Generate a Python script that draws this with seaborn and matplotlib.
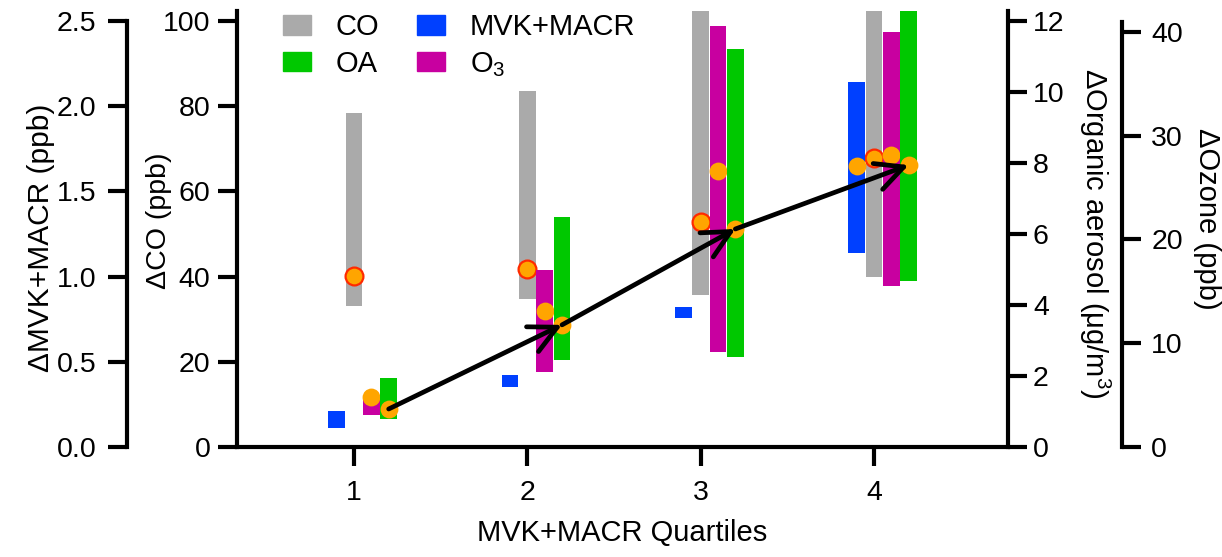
import numpy as np
import pandas as pd
import matplotlib
matplotlib.use("Agg")
import matplotlib.pyplot as plt
import seaborn as sns
from matplotlib.patches import Patch

# ---------------- data ----------------
quartiles = [1, 2, 3, 4]
quartile_labels = ["1", "2", "3", "4"]

mvk_low = [0.11, 0.35, 0.76, 1.14]
mvk_high = [0.21, 0.42, 0.82, 2.14]
mvk_med = [np.nan, np.nan, np.nan, 1.65]

co_low = [33.1, 34.7, 35.7, 39.9]
co_high = [78.4, 83.6, 106.0, 108.0]
co_med = [40.1, 41.8, 52.8, 67.8]

o3_low = [3.1, 7.2, 9.2, 15.5]
o3_high = [4.8, 17.1, 40.6, 40.0]
o3_med = [4.8, 13.1, 26.6, 28.1]

oa_low = [0.78, 2.45, 2.54, 4.68]
oa_high = [1.94, 6.48, 11.2, 12.8]
oa_med = [1.07, 3.44, 6.14, 7.94]

# ---------------- style ----------------
sns.set_theme(style="white")
plt.rcParams["font.family"] = ["Liberation Sans", "DejaVu Sans"]
plt.rcParams["mathtext.fontset"] = "custom"
plt.rcParams["mathtext.rm"] = "Liberation Sans"
plt.rcParams["axes.linewidth"] = 3
for k in ("text.color", "axes.labelcolor", "xtick.color", "ytick.color",
          "xtick.labelcolor", "ytick.labelcolor", "axes.edgecolor"):
    plt.rcParams[k] = "black"

C_MVK = "#0040FF"
C_CO = "#AAAAAA"
C_O3 = "#C800A0"
C_OA = "#00C800"
C_DOT = "#FFA500"

W = 0.095
OFF = {"mvk": -0.1, "co": 0.0, "o3": 0.1, "oa": 0.2}

fig = plt.figure(figsize=(12.22, 5.57), dpi=100)
ax = fig.add_axes([237 / 1222, 110 / 557, 771 / 1222, 436 / 557])
ax_mvk = ax.twinx()
ax_o3 = ax.twinx()
ax_oa = ax.twinx()

x = np.array(quartiles, dtype=float)


def floating(axis, xs, lo, hi, color):
    lo = np.asarray(lo)
    hi = np.asarray(hi)
    axis.bar(xs, hi - lo, bottom=lo, width=W, color=color, edgecolor="none", zorder=2)


def medians(axis, xs, vals, edge):
    df = pd.DataFrame({"x": xs, "y": vals}).dropna()
    sns.scatterplot(data=df, x="x", y="y", ax=axis, s=165, color=C_DOT,
                    edgecolor=edge, linewidth=1.6 if edge != C_DOT else 0,
                    zorder=4, legend=False)


floating(ax, x + OFF["co"], co_low, co_high, C_CO)
medians(ax, x + OFF["co"], co_med, "#FF2A00")

floating(ax_mvk, x + OFF["mvk"], mvk_low, mvk_high, C_MVK)
medians(ax_mvk, x + OFF["mvk"], mvk_med, C_DOT)

floating(ax_o3, x + OFF["o3"], o3_low, o3_high, C_O3)
medians(ax_o3, x + OFF["o3"], o3_med, C_DOT)

floating(ax_oa, x + OFF["oa"], oa_low, oa_high, C_OA)
medians(ax_oa, x + OFF["oa"], oa_med, C_DOT)

# arrows connecting OA medians
xa = x + OFF["oa"]
for i in range(len(quartiles) - 1):
    ax_oa.annotate("", xy=(xa[i + 1], oa_med[i + 1]), xytext=(xa[i], oa_med[i]),
                   xycoords="data", textcoords="data",
                   arrowprops=dict(arrowstyle="->,head_length=0.9,head_width=0.45",
                                   mutation_scale=22, lw=3.4, color="black",
                                   shrinkA=0, shrinkB=0),
                   zorder=6)

# ---------------- axes ----------------
ax.set_xlim(0.325, 4.773)
ax.set_xticks(quartiles)
ax.set_xticklabels(quartile_labels)
ax.set_ylim(0, 102.35)
ax.set_yticks([0, 20, 40, 60, 80, 100])
ax_mvk.set_ylim(0, 2.559)
ax_mvk.set_yticks([0, 0.5, 1.0, 1.5, 2.0, 2.5])
ax_mvk.set_yticklabels(["0.0", "0.5", "1.0", "1.5", "2.0", "2.5"])
ax_oa.set_ylim(0, 12.28)
ax_oa.set_yticks([0, 2, 4, 6, 8, 10, 12])
ax_o3.set_ylim(0, 42.02)
ax_o3.set_yticks([0, 10, 20, 30, 40])

for a in (ax, ax_mvk, ax_o3, ax_oa):
    for s in a.spines.values():
        s.set_visible(False)
        s.set_linewidth(3)
        s.set_color("black")
    a.set_xlabel("")
    a.set_ylabel("")

ax.spines["left"].set_visible(True)
ax.spines["bottom"].set_visible(True)

ax_mvk.spines["left"].set_visible(True)
ax_mvk.spines["left"].set_position(("axes", (127 - 237) / 771))
ax_mvk.spines["left"].set_bounds(0, 2.5)
ax_mvk.yaxis.set_ticks_position("left")
ax_mvk.yaxis.set_label_position("left")

ax_oa.spines["right"].set_visible(True)
ax_oa.yaxis.set_ticks_position("right")

ax_o3.spines["right"].set_visible(True)
ax_o3.spines["right"].set_position(("axes", (1122 - 237) / 771))
ax_o3.spines["right"].set_bounds(0, 41)
ax_o3.yaxis.set_ticks_position("right")

tick_kw = dict(direction="out", length=14, width=3, color="black",
               labelsize=20.5, labelcolor="black")
ax.tick_params(axis="x", pad=10, bottom=True, **tick_kw)
ax.tick_params(axis="y", pad=5, left=True, **tick_kw)
ax_mvk.tick_params(axis="y", pad=8, left=True, right=False, **tick_kw)
ax_oa.tick_params(axis="y", pad=4, right=True, left=False, **tick_kw)
ax_o3.tick_params(axis="y", pad=7, right=True, left=False, **tick_kw)

# axis labels
ax.set_xlabel("MVK+MACR Quartiles", fontsize=21, labelpad=9)
ax.set_ylabel("ΔCO (ppb)", fontsize=20.5)
ax.yaxis.set_label_coords((172 - 237) / 771, 0.52)
ax_mvk.set_ylabel("ΔMVK+MACR (ppb)", fontsize=21.5)
ax_mvk.yaxis.set_label_coords((55 - 237) / 771, 0.48)
ax_oa.set_ylabel("ΔOrganic aerosol (μg/m$^\\mathregular{3}$)", fontsize=21,
                 rotation=270, va="bottom")
ax_oa.yaxis.set_label_coords((1077 - 237) / 771, 0.49)
ax_o3.set_ylabel("ΔOzone (ppb)", fontsize=21, rotation=270, va="bottom")
ax_o3.yaxis.set_label_coords((1193 - 237) / 771, 0.523)

# legend
handles = [Patch(color=C_CO), Patch(color=C_OA), Patch(color=C_MVK), Patch(color=C_O3)]
labels = ["CO", "OA", "MVK+MACR", "O$_\\mathregular{3}$"]
ax_oa.legend(handles, labels, ncol=2, loc="upper left",
             bbox_to_anchor=((283 - 237) / 771, 0.995), frameon=False,
             fontsize=21, handlelength=0.95, handleheight=0.65,
             handletextpad=0.85, columnspacing=1.3, labelspacing=0.3,
             borderpad=0, borderaxespad=0)

fig.savefig("out.png", dpi=100)
